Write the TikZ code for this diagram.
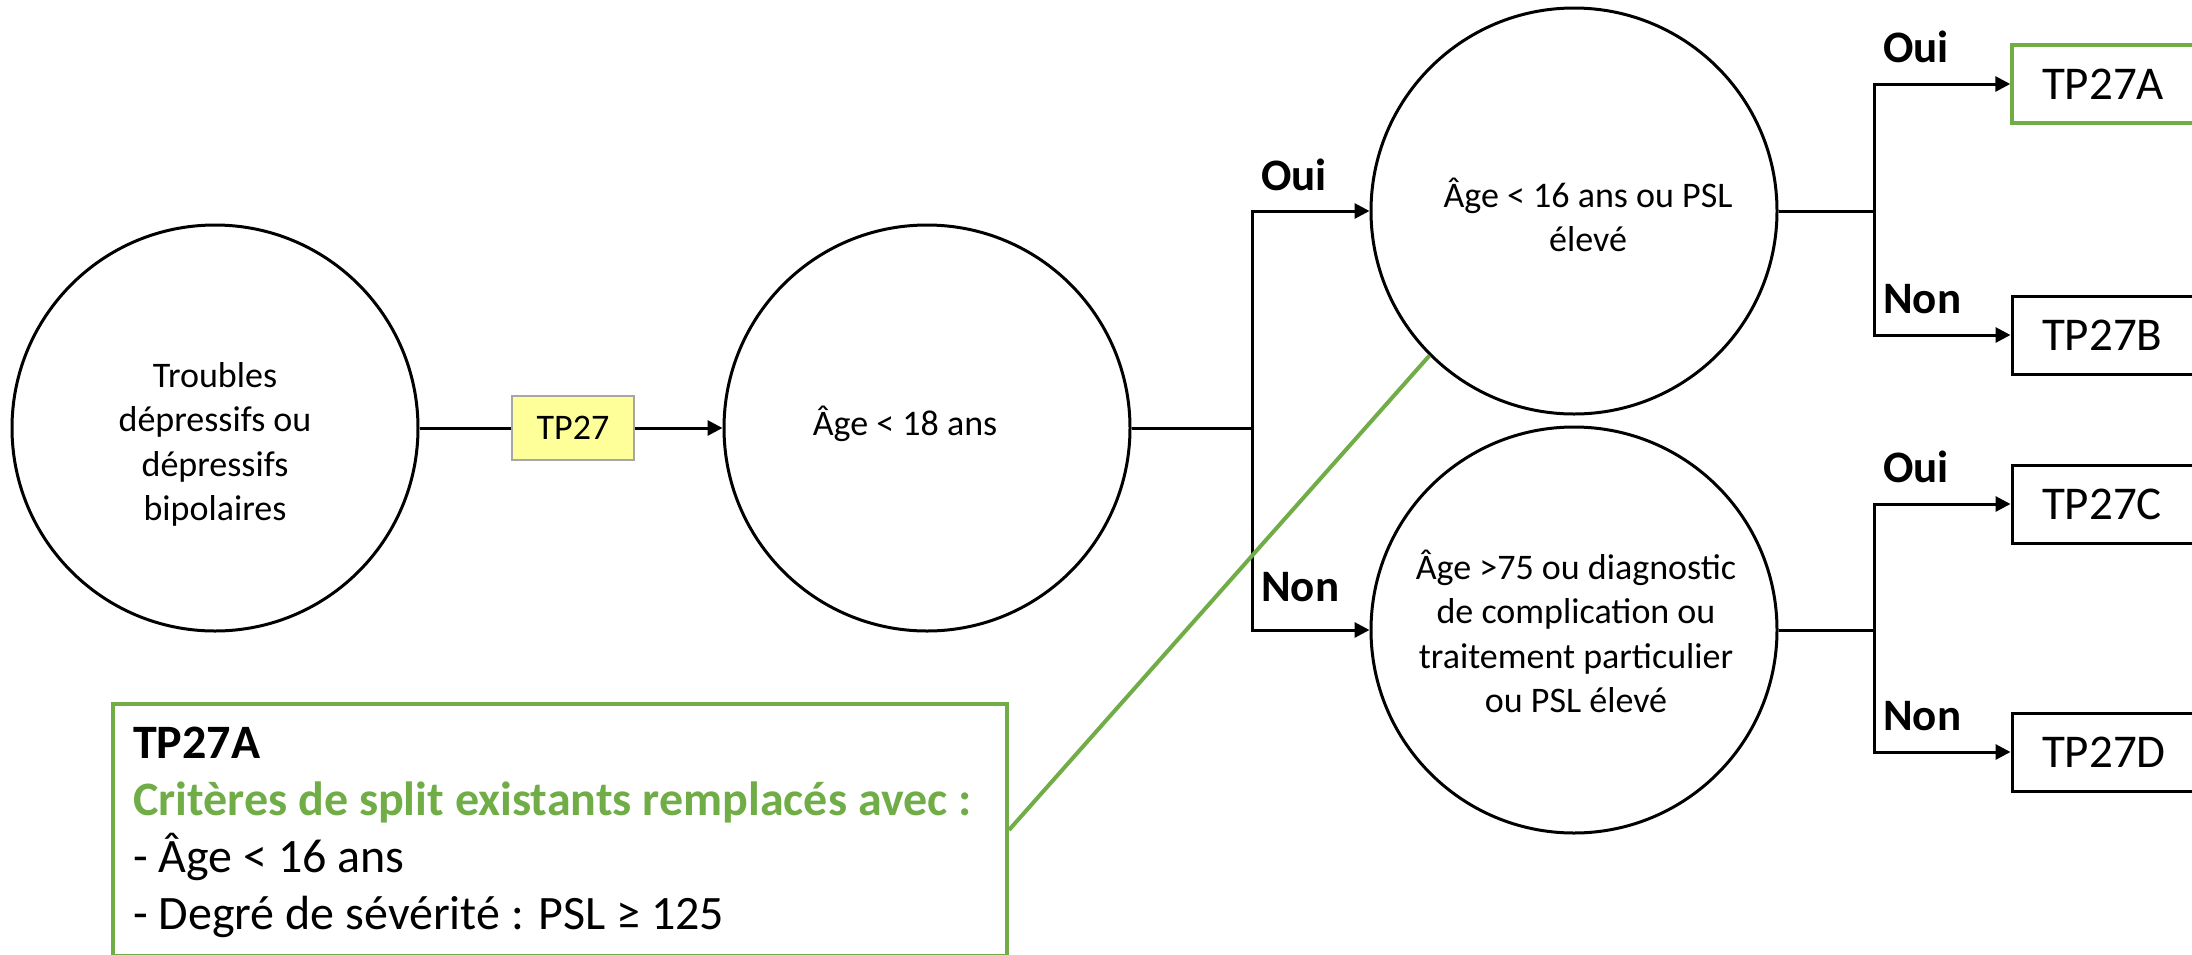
\documentclass[tikz,border=0pt]{standalone}
\usepackage{fontspec}
\setmainfont{Carlito}
\usetikzlibrary{arrows.meta}

\definecolor{leafgreen}{RGB}{112,173,71}
\definecolor{tagyellow}{RGB}{255,255,153}
\definecolor{taggray}{RGB}{166,166,166}

% multi-line text whose reference point is the baseline of the first line
\newcommand\centerlines[1]{\vtop{\halign{\hfil##\hfil\cr#1\crcr}}}
\newcommand\leftlines[1]{\vtop{\halign{##\hfil\cr#1\crcr}}}

\begin{document}
\begin{tikzpicture}[x=1pt,y=-1pt,
  decision/.style={circle, draw, line width=3pt, minimum size=406pt, inner sep=0pt},
  cond/.style={font=\fontsize{36}{44.5}\selectfont, inner sep=0pt, anchor=base},
  leaf/.style={draw, line width=3pt, minimum height=78pt, text width=188pt,
               inner xsep=30pt, inner ysep=0pt, align=left,
               font=\fontsize{47}{56}\selectfont},
  tag/.style={draw=taggray, fill=tagyellow, line width=1.5pt, minimum width=122pt,
              minimum height=64pt, inner sep=0pt, font=\fontsize{36}{44}\selectfont},
  lab/.style={font=\bfseries\fontsize{45}{54}\selectfont, anchor=base west, inner sep=0pt},
  conn/.style={line width=3pt},
  arr/.style={conn, -{Triangle[length=15pt,width=15pt]}},
  callout/.style={draw=leafgreen, line width=4pt, minimum width=894pt,
                  minimum height=252pt, inner sep=0pt},
  calloutline/.style={draw=leafgreen, line width=4pt},
  notetext/.style={font=\fontsize{48}{57.3}\selectfont, inner sep=0pt, anchor=base west}
]
\useasboundingbox (0,0) rectangle (2192,954);
\clip (0,0) rectangle (2192,954);
\fill[white] (0,0) rectangle (2192,954);

% decision circles
\node[decision] (c1) at (215,428) {};
\node[decision] (c2) at (927,428) {};
\node[decision] (c3) at (1574,211) {};
\node[decision] (c4) at (1574,630) {};

\node[cond] (t1) at (215,387) {\centerlines{Troubles\cr dépressifs ou\cr dépressifs\cr bipolaires}};
\node[cond] (t2) at (905,435) {Âge < 18 ans};
\node[cond] (t3) at (1588,207) {\centerlines{Âge < 16 ans ou PSL\cr élevé}};
\node[cond] (t4) at (1576,579) {\centerlines{Âge >75 ou diagnostic\cr de complication ou\cr traitement particulier\cr ou PSL élevé}};

% group tag on the first connector
\node[tag] (tp) at (573,428) {TP27};

% resulting groups
\node[leaf, draw=leafgreen, line width=3.5pt] (bA) at (2136,84) {TP27A};
\node[leaf] (bB) at (2136,335) {TP27B};
\node[leaf] (bC) at (2136,504) {TP27C};
\node[leaf] (bD) at (2136,752) {TP27D};

% branching points
\coordinate (j1) at (1252,428);
\coordinate (j2) at (1874,211);
\coordinate (j3) at (1874,630);

% connectors
\draw[conn] (c1) -- (tp);
\draw[arr] (tp) -- (c2);
\draw[conn] (c2.east) -- (j1);
\draw[arr] (j1) |- (c3.west);
\draw[arr] (j1) |- (c4.west);
\draw[conn] (c3.east) -- (j2);
\draw[arr] (j2) |- (bA.west);
\draw[arr] (j2) |- (bB.west);
\draw[conn] (c4.east) -- (j3);
\draw[arr] (j3) |- (bC.west);
\draw[arr] (j3) |- (bD.west);

% branch labels
\node[lab] (l1) at (1261,190) {Oui};
\node[lab] (l2) at (1261,601) {Non};
\node[lab] (l3) at (1883,62) {Oui};
\node[lab] (l4) at (1883,313) {Non};
\node[lab] (l5) at (1883,482) {Oui};
\node[lab] (l6) at (1883,730) {Non};

% note on TP27A
\node[callout] (note) at (560,830) {};
\draw[calloutline] (note.east) -- (c3.225);
\node[notetext] (notet) at (133,758) {\leftlines{\textbf{TP27A}\cr
  \textcolor{leafgreen}{\textbf{Critères de split existants remplacés avec :}}\cr
  - Âge < 16 ans\cr
  - Degré de sévérité : PSL ≥ 125}};
\end{tikzpicture}
\end{document}
